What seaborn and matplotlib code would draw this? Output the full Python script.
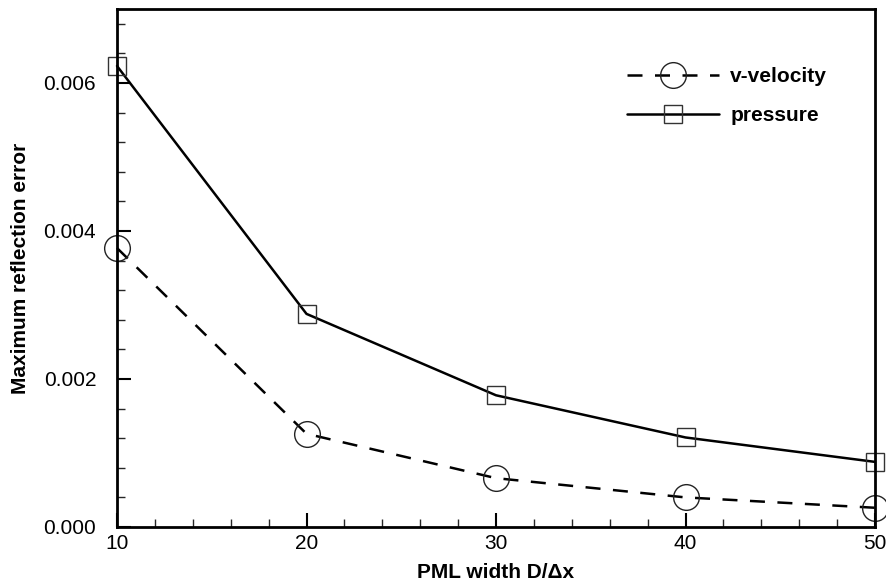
import matplotlib
matplotlib.use("Agg")
import matplotlib.pyplot as plt
import seaborn as sns
import pandas as pd
from matplotlib.ticker import MultipleLocator, FormatStrFormatter

pml_width = [10, 20, 30, 40, 50]
v_velocity = [0.00377, 0.00126, 0.00066, 0.00040, 0.00026]
pressure = [0.00623, 0.00288, 0.00178, 0.00121, 0.00088]

sns.set_theme(style="white")
plt.rcParams['font.family'] = ['Liberation Sans', 'DejaVu Sans']
plt.rcParams['text.color'] = 'black'
plt.rcParams['axes.labelcolor'] = 'black'

fig = plt.figure(figsize=(8.86, 5.88), dpi=100)
ax = fig.add_axes([117/886, 1-527/588, (875-117)/886, (527-9)/588])

df_v = pd.DataFrame({"x": pml_width, "y": v_velocity})
df_p = pd.DataFrame({"x": pml_width, "y": pressure})

sns.lineplot(data=df_v, x="x", y="y", ax=ax, color="black", linewidth=1.8,
             linestyle=(0, (6, 5)), marker="o", markersize=18.5,
             markerfacecolor="none", markeredgecolor="#222222",
             markeredgewidth=1.0, label="v-velocity", clip_on=False)
sns.lineplot(data=df_p, x="x", y="y", ax=ax, color="black", linewidth=1.8,
             linestyle="-", marker="s", markersize=13,
             markerfacecolor="none", markeredgecolor="#333333",
             markeredgewidth=1.0, label="pressure", clip_on=False)

ax.set_xlim(10, 50)
ax.set_ylim(0, 0.007)
ax.xaxis.set_major_locator(MultipleLocator(10))
ax.xaxis.set_minor_locator(MultipleLocator(2))
ax.yaxis.set_major_locator(MultipleLocator(0.002))
ax.yaxis.set_minor_locator(MultipleLocator(0.0004))
ax.yaxis.set_major_formatter(FormatStrFormatter('%.3f'))

for s in ax.spines.values():
    s.set_linewidth(2.0)
    s.set_color("black")

ax.tick_params(which="major", direction="in", length=10, width=1.5,
               labelsize=15, colors="black", left=True, bottom=True,
               top=False, right=False)
ax.tick_params(which="minor", direction="in", length=6, width=1.0,
               left=True, bottom=True, top=False, right=False)
ax.tick_params(axis="y", pad=15)
ax.tick_params(axis="x", pad=5)

ax.set_xlabel("PML width D/Δx", fontsize=15, fontweight="bold", labelpad=7, color="black")
ax.set_ylabel("Maximum reflection error", fontsize=15, fontweight="bold", labelpad=10, color="black")

leg = ax.legend(loc="upper left", bbox_to_anchor=(0.673, 0.888), frameon=False,
                borderpad=0, borderaxespad=0,
                handlelength=4.4, prop={"weight": "bold", "size": 15},
                labelspacing=0.95, handletextpad=0.55)
for t in leg.get_texts():
    t.set_color("black")

fig.savefig("out.png", dpi=100)
